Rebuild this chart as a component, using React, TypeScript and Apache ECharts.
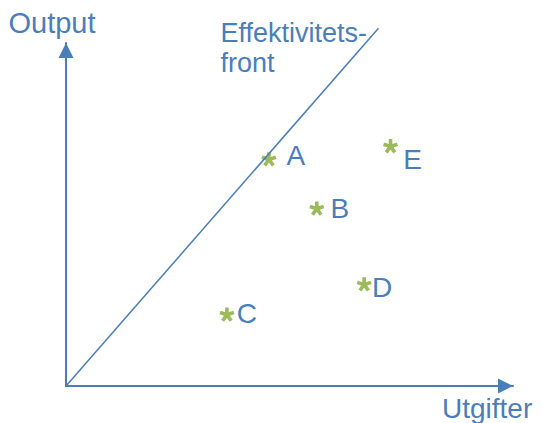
import React, { useEffect, useRef } from "react";
import * as echarts from "echarts";

// Data (abstract units: x = Utgifter 0..100, y = Output 0..100)
const pointNames = ["A", "B", "C", "D", "E"];
const pointX = [45.4, 56.1, 36.0, 66.7, 72.6];
const pointY = [66.1, 51.7, 20.8, 29.6, 69.9];
const frontierX = [0, 69.9];
const frontierY = [0, 104.3];
const xAxisLabel = "Utgifter";
const yAxisLabel = "Output";
const frontierLabel = ["Effektivitets-", "front"];

// layout of the letter labels relative to each asterisk (pixels)
const labelOffsets: Record<string, [number, number]> = {
  A: [27, -4],
  B: [23, 0],
  C: [20, -1.5],
  D: [18, 3.5],
  E: [22, 13],
};

const BLUE = "#4A7EBB";
const GREEN = "#9BBB59";
const FONT = "'Liberation Sans', Arial, sans-serif";

function asteriskPath(): string {
  const L = 50;
  const w = 25;
  const back = 6;
  const angles = [90, 18, 162, -54, 234];
  let d = "";
  for (const a of angles) {
    const t = (a * Math.PI) / 180;
    const dx = Math.cos(t);
    const dy = -Math.sin(t);
    const px = Math.sin(t);
    const py = Math.cos(t);
    const pts = [
      [-dx * back + (px * w) / 2, -dy * back + (py * w) / 2],
      [dx * L + (px * w) / 2, dy * L + (py * w) / 2],
      [dx * L - (px * w) / 2, dy * L - (py * w) / 2],
      [-dx * back - (px * w) / 2, -dy * back - (py * w) / 2],
    ];
    d +=
      "M" +
      pts.map((p) => (p[0] + 60).toFixed(2) + "," + (p[1] + 60).toFixed(2)).join("L") +
      "Z";
  }
  return "path://" + d;
}

export default function App() {
  const ref = useRef<HTMLDivElement>(null);
  useEffect(() => {
    if (!ref.current) return;
    const chart = echarts.init(ref.current, undefined, { renderer: "svg" });
    const scatterData = pointNames.map((n, i) => ({
      name: n,
      value: [pointX[i], pointY[i]],
      label: { offset: labelOffsets[n] },
    }));
    chart.setOption({
      animation: false,
      backgroundColor: "#ffffff",
      grid: { left: 66, top: 43, width: 447, height: 343 },
      xAxis: {
        type: "value",
        min: 0,
        max: 100,
        splitLine: { show: false },
        axisTick: { show: false },
        axisLabel: { show: false },
        axisLine: {
          show: true,
          lineStyle: { color: BLUE, width: 2 },
          symbol: ["none", "triangle"],
          symbolSize: [15, 15],
          symbolOffset: [0, -7.5],
        },
      },
      yAxis: {
        type: "value",
        min: 0,
        max: 100,
        splitLine: { show: false },
        axisTick: { show: false },
        axisLabel: { show: false },
        axisLine: {
          show: true,
          lineStyle: { color: BLUE, width: 2 },
          symbol: ["none", "triangle"],
          symbolSize: [15, 15],
          symbolOffset: [0, -7.5],
        },
      },
      series: [
        {
          type: "line",
          data: frontierX.map((x, i) => [x, frontierY[i]]),
          clip: false,
          symbol: "none",
          lineStyle: { color: BLUE, width: 1.5 },
          silent: true,
        },
        {
          type: "scatter",
          data: scatterData,
          symbol: asteriskPath(),
          symbolKeepAspect: true,
          symbolSize: 15,
          itemStyle: { color: GREEN, opacity: 1 },
          label: {
            show: true,
            position: "inside",
            formatter: "{b}",
            color: BLUE,
            opacity: 1,
            fontSize: 28,
            fontFamily: FONT,
            align: "center",
            verticalAlign: "middle",
          },
        },
      ],
      graphic: [
        {
          type: "text",
          left: 8.5,
          top: 8,
          style: {
            text: yAxisLabel,
            fill: BLUE,
            font: "29px " + FONT,
          },
        },
        {
          type: "text",
          left: 442,
          top: 394,
          style: {
            text: xAxisLabel,
            fill: BLUE,
            font: "28px " + FONT,
          },
        },
        {
          type: "text",
          left: 220.5,
          top: 19,
          style: {
            text: frontierLabel[0],
            fill: BLUE,
            font: "27px " + FONT,
          },
        },
        {
          type: "text",
          left: 220.5,
          top: 49.5,
          style: {
            text: frontierLabel[1],
            fill: BLUE,
            font: "27px " + FONT,
          },
        },
      ],
    });
    return () => chart.dispose();
  }, []);
  return (
    <div
      ref={ref}
      style={{ position: "fixed", left: 0, top: 0, width: 542, height: 423 }}
    />
  );
}
